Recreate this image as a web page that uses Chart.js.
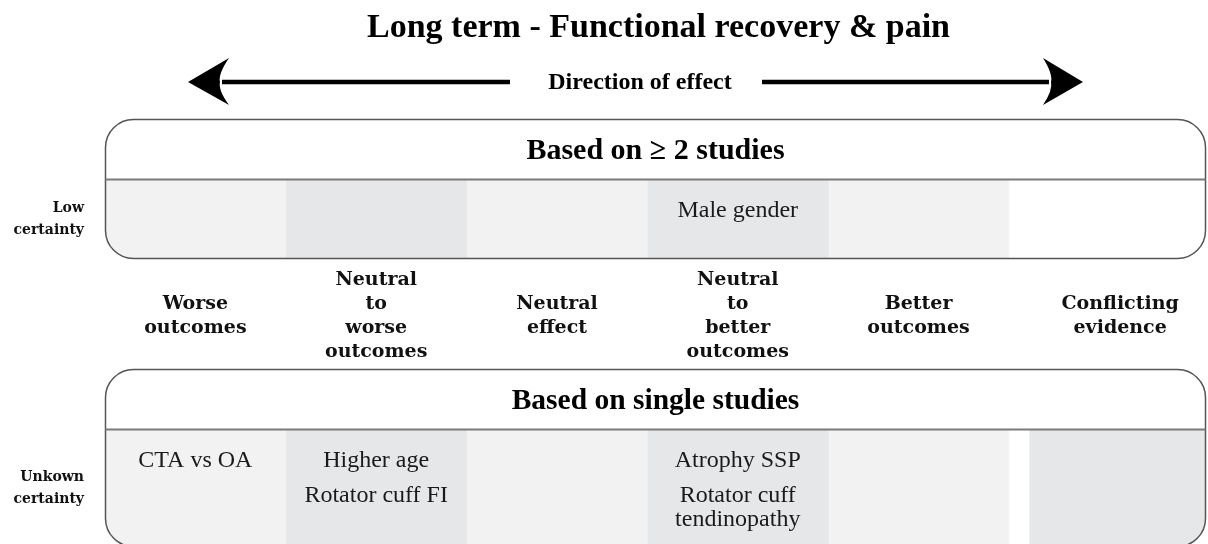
<!DOCTYPE html>
<html>
<head>
<meta charset="UTF-8">
<title>Long term - Functional recovery &amp; pain</title>
<script src="https://cdn.jsdelivr.net/npm/chart.js@4.4.1/dist/chart.umd.min.js"></script>
<style>
    html, body { margin: 0; padding: 0; background: #fff; }
    #chart { display: block; }
</style>
</head>
<body>
<canvas id="chart" width="1208" height="544"></canvas>
<script>
// evidence table: columns = direction of effect, rows = certainty
const columns = ['Worse outcomes', 'Neutral to worse outcomes', 'Neutral effect', 'Neutral to better outcomes', 'Better outcomes', 'Conflicting evidence'];
const rowLabels = ['Low certainty', 'Unkown certainty'];
const boxTitles = ['Based on \u2265 2 studies', 'Based on single studies'];

// prognostic factors found in each column
const multiStudyFactors = [[], [], [], ['Male gender'], [], []];
const singleStudyFactors = [['CTA vs OA'], ['Higher age', 'Rotator cuff FI'], [], ['Atrophy SSP', 'Rotator cuff tendinopathy'], [], []];

// which cells are shaded (1) or left white (0)
const multiStudyCells = [1, 1, 1, 1, 1, 0];
const singleStudyCells = [1, 1, 1, 1, 1, 1];

const factors = [multiStudyFactors, singleStudyFactors];
const cellsShown = [multiStudyCells, singleStudyCells];

// styling
const LIGHT = '#f2f2f2';
const DARK = '#e6e7e9';
const ROW_H = [79, 117];   // height of the shaded band in each box
const HEAD_H = 60;         // header band of each box
const GAP = 0.115;         // white gap before the "conflicting" column (x units)
const RADIUS = 28;
const SERIF = '"Liberation Serif", "Times New Roman", serif';
const WIDE_SERIF = '"DejaVu Serif", serif';

function colStart(i) {
    return i === columns.length - 1 ? i + GAP : i;
}

// one dataset per cell, all in the same stack slot so they overlap per row
const datasets = [];
rowLabels.forEach((row, r) => {
    columns.forEach((c, i) => {
        if (!cellsShown[r][i]) return;
        datasets.push({
            label: boxTitles[r] + ' / ' + c,
            data: rowLabels.map((_, k) => k === r ? [colStart(i), colStart(i) + 1] : null),
            backgroundColor: i % 2 === 1 ? DARK : LIGHT,
            borderWidth: 0,
            barThickness: ROW_H[r],
            stack: 'cells',
            clip: false
        });
    });
});

function addRoundBox(ctx, x0, y0, x1, y1, r) {
    ctx.moveTo(x0 + r, y0);
    ctx.arcTo(x1, y0, x1, y1, r);
    ctx.arcTo(x1, y1, x0, y1, r);
    ctx.arcTo(x0, y1, x0, y0, r);
    ctx.arcTo(x0, y0, x1, y0, r);
    ctx.closePath();
}

function getBoxes(chart) {
    const y = chart.scales.y, a = chart.chartArea;
    return ROW_H.map((h, r) => {
        const cy = y.getPixelForValue(r);
        return { left: a.left + 0.5, right: a.right - 0.5, top: cy - h / 2 - HEAD_H, mid: cy - h / 2, bottom: cy + h / 2 };
    });
}

function wrap(ctx, text, maxW) {
    const words = text.split(' ');
    const lines = [];
    let cur = '';
    words.forEach(w => {
        const t = cur ? cur + ' ' + w : w;
        if (cur && ctx.measureText(t).width > maxW) {
            lines.push(cur);
            cur = w;
        } else {
            cur = t;
        }
    });
    lines.push(cur);
    return lines;
}

const diagramPlugin = {
    id: 'diagram',
    beforeDatasetsDraw(chart) {
        const ctx = chart.ctx;
        ctx.save();
        ctx.beginPath();
        getBoxes(chart).forEach(b => addRoundBox(ctx, b.left, b.top, b.right, b.bottom, RADIUS));
        ctx.clip();
    },
    afterDatasetsDraw(chart) {
        const ctx = chart.ctx;
        ctx.restore();
        const x = chart.scales.x;
        const boxes = getBoxes(chart);
        const cx = (chart.chartArea.left + chart.chartArea.right) / 2;
        const boxFont = [30, 29.5];

        ctx.save();
        // boxes, dividers and box titles
        boxes.forEach((b, r) => {
            ctx.beginPath();
            addRoundBox(ctx, b.left, b.top, b.right, b.bottom, RADIUS);
            ctx.lineWidth = 1.5;
            ctx.strokeStyle = '#555';
            ctx.stroke();

            ctx.beginPath();
            ctx.moveTo(b.left, b.mid);
            ctx.lineTo(b.right, b.mid);
            ctx.lineWidth = 2;
            ctx.strokeStyle = '#7a7a7a';
            ctx.stroke();

            ctx.fillStyle = '#000';
            ctx.textAlign = 'center';
            ctx.textBaseline = 'alphabetic';
            ctx.font = 'bold ' + boxFont[r] + 'px ' + SERIF;
            ctx.fillText(boxTitles[r], cx, b.top + 39);

            // factor names inside the cells
            ctx.font = '24px ' + SERIF;
            ctx.fillStyle = '#1a1a1a';
            factors[r].forEach((items, i) => {
                const px = x.getPixelForValue(colStart(i) + 0.5);
                const maxW = x.getPixelForValue(1) - x.getPixelForValue(0) - 20;
                let yy = b.mid + 37;
                items.forEach(item => {
                    const lines = wrap(ctx, item, maxW);
                    lines.forEach((ln, k) => {
                        ctx.fillText(ln, px, yy + k * 24);
                    });
                    yy += (lines.length - 1) * 24 + 35;
                });
            });
        });

        // column headers between the two boxes
        const midY = (boxes[0].bottom + boxes[1].top) / 2;
        ctx.font = 'bold 19px ' + WIDE_SERIF;
        ctx.fillStyle = '#111';
        columns.forEach((c, i) => {
            const words = c.split(' ');
            const px = x.getPixelForValue(colStart(i) + 0.5);
            words.forEach((w, k) => {
                ctx.fillText(w, px, midY + 7 + (k - (words.length - 1) / 2) * 24);
            });
        });

        // title
        ctx.fillStyle = '#000';
        ctx.font = 'bold 34px ' + SERIF;
        ctx.fillText('Long term - Functional recovery & pain', cx + 3, 37);

        // direction of effect arrow
        ctx.font = 'bold 24px ' + SERIF;
        ctx.fillText('Direction of effect', 640, 89);
        ctx.lineWidth = 4.5;
        ctx.strokeStyle = '#000';
        ctx.beginPath();
        ctx.moveTo(222, 82);
        ctx.lineTo(510, 82);
        ctx.moveTo(762, 82);
        ctx.lineTo(1049, 82);
        ctx.stroke();
        ctx.beginPath();
        ctx.moveTo(188, 82);
        ctx.lineTo(229, 58);
        ctx.quadraticCurveTo(218, 74, 220, 82);
        ctx.quadraticCurveTo(218, 90, 229, 105);
        ctx.closePath();
        ctx.moveTo(1083, 82);
        ctx.lineTo(1043, 58);
        ctx.quadraticCurveTo(1053, 74, 1051, 82);
        ctx.quadraticCurveTo(1053, 90, 1043, 105);
        ctx.closePath();
        ctx.fillStyle = '#000';
        ctx.fill();
        ctx.restore();
    }
};

new Chart(document.getElementById('chart').getContext('2d'), {
    type: 'bar',
    data: { labels: rowLabels, datasets: datasets },
    options: {
        indexAxis: 'y',
        responsive: false,
        animation: false,
        layout: { padding: { top: 219, bottom: 56, left: 0, right: 2 } },
        plugins: { legend: { display: false }, tooltip: { enabled: false } },
        scales: {
            x: { type: 'linear', min: 0, max: 6.09, stacked: false, display: false },
            y: {
                type: 'category',
                offset: false,
                grid: { display: false, drawTicks: false },
                border: { display: false },
                ticks: {
                    callback: (v, i) => rowLabels[i].split(' '),
                    font: { family: WIDE_SERIF, weight: 'bold', size: 14, lineHeight: 1.57 },
                    color: '#111',
                    padding: 21,
                    crossAlign: 'near'
                },
                afterFit(scale) { scale.width = 105; }
            }
        }
    },
    plugins: [diagramPlugin]
});
</script>
</body>
</html>
